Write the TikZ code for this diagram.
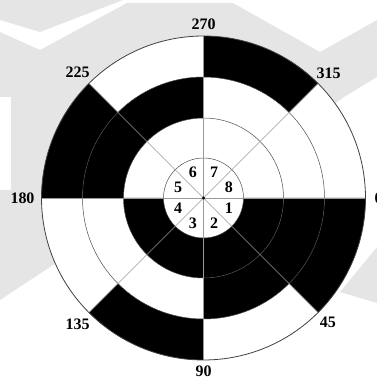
\documentclass[tikz,border=0pt]{standalone}
\usepackage{fontspec}
\setmainfont{Liberation Serif}
\usetikzlibrary{calc}

\begin{document}
\begin{tikzpicture}[x=1pt,y=1pt,
  ring/.style={draw=black!70,line width=0.5pt},
  spoke/.style={draw=black!40,line width=0.6pt},
  lbl/.style={font=\bfseries\fontsize{16}{16}\selectfont,inner sep=0pt}]
  \useasboundingbox (0,0) rectangle (377,381);
  % faint background
  \fill[black!10] (0,349)--(40,331)--(127,378)--(233,378)--(320,329)--(377,361)
    --(377,304)--(344,284)--(204,183)--(53,116)--(0,81)--(0,191)--(11,191)
    --(11,284)--(0,284)--cycle;
  \fill[black!10] (0,381)--(123,381)--(40,349)--(0,361)--cycle;
  \fill[black!10] (340,89)--(377,134)--(377,78)--cycle;

  \coordinate (c) at (203.5,183);
  \fill[white] (c) circle[radius=162];
  \foreach \a/\b/\ri/\ro in {0/180/40/80,0/90/80/121,180/270/80/121,
    0/45/121/162,90/135/121/162,180/225/121/162,270/315/121/162}
  {
    \fill (c) ++(-\a:\ri) arc[start angle=-\a,end angle=-\b,radius=\ri]
      -- ++(-\b:\ro-\ri) arc[start angle=-\b,end angle=-\a,radius=\ro] -- cycle;
  }
  \foreach \r in {40,80,121}
    \draw[ring] (c) circle[radius=\r];
  \foreach \a in {0,45,...,315}
    \draw[spoke] (c) -- ++(\a:162);
  \draw[black!75,line width=0.8pt] (c) circle[radius=162];
  \fill (c) circle[radius=1.6];

  \foreach \k in {1,...,8}
    \node[lbl] (n\k) at ($(c)+({22.5-45*\k}:27.5)$) {\k};
  \foreach \a/\r in {0/175,45/176,90/173,135/178,180/181,225/178,270/174,315/177}
    \node[lbl] (deg\a) at ($(c)+(-\a:\r)$) {\a};
\end{tikzpicture}
\end{document}
